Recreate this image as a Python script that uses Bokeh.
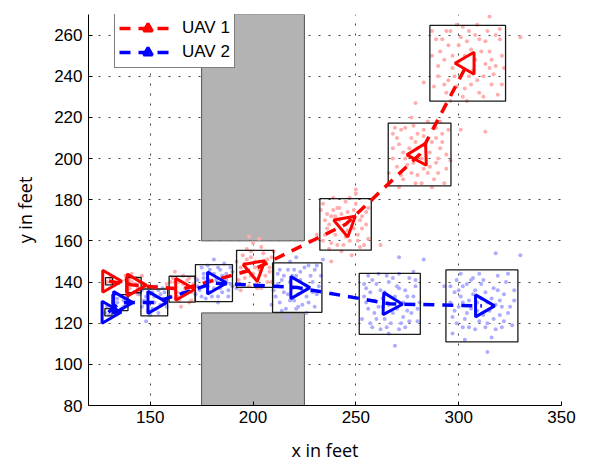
from bokeh.plotting import figure
from bokeh.models import Legend, LegendItem, FixedTicker, Range1d, ColumnDataSource
from bokeh.embed import file_html
from bokeh.resources import INLINE

# ---------------- data ----------------
x_ticks = [150, 200, 250, 300, 350]
y_ticks = [80, 100, 120, 140, 160, 180, 200, 220, 240, 260]

obs_left = [175, 175]
obs_right = [225, 225]
obs_bottom = [80, 160]
obs_top = [125, 270]

uav1_x = [130.0, 141.9, 165.5, 201.0, 245.0, 281.0, 304.4]
uav1_y = [140.4, 138.5, 136.5, 146.4, 168.0, 202.0, 246.3]
uav1_heading = [-90, -90, -90, 190, 190, 92, 90]
uav1_box = [3.5, 7.4, 12.6, 18.0, 25.0, 30.5, 36.8]

uav2_x = [129.7, 135.3, 152.0, 181.0, 221.5, 266.5, 311.3]
uav2_y = [125.3, 130.0, 130.1, 139.5, 137.3, 129.4, 128.4]
uav2_heading = [-90, -90, -90, -90, -90, -92, -90]
uav2_box = [3.5, 7.8, 13.0, 18.0, 24.0, 29.7, 35.0]

uav1_px = [131, 129, 132, 130.5,
           139, 140, 143, 144, 142, 145, 139, 146, 141, 138, 144, 147,
           160, 162, 168, 170, 164, 166, 171, 159, 163, 167, 169, 161, 172, 165, 158, 174, 166, 162,
           193, 196, 199, 203, 206, 198, 202, 208, 195, 205, 197, 201, 209, 192, 204, 200, 207, 194, 210, 199, 198, 203,
           234, 238, 241, 245, 249, 252, 236, 240, 247, 251, 254, 237, 243, 248, 242, 246, 255, 233, 239, 250, 253, 235, 244, 256, 231, 248, 238, 258, 228, 262,
           270, 274, 278, 283, 287, 290, 268, 272, 276, 280, 285, 292, 294, 288, 279, 271, 284, 277, 289, 266, 282, 275, 291, 286, 273, 269, 293, 280, 296, 301, 313, 283, 250,
           292, 296, 300, 305, 310, 315, 318, 312, 306, 298, 290, 288, 294, 302, 310, 316, 320, 297, 303, 308, 313, 291, 299, 309, 287, 319, 304, 295, 314, 322, 315, 330, 279]
uav1_py = [141, 140, 139.5, 142,
           136, 141, 142, 137, 135, 140, 139, 143, 144, 141, 134, 138,
           133, 140, 141, 135, 131, 143, 139, 137, 135, 134, 130, 142, 142, 128, 131, 137, 139, 145,
           141, 149, 152, 150, 143, 138, 140, 147, 145, 154, 156, 147, 140, 150, 137, 159, 151, 136, 155, 143, 162, 161,
           160, 172, 176, 179, 175, 170, 166, 163, 160, 163, 158, 156, 155, 170, 170, 165, 174, 175, 181, 183, 166, 170, 158, 161, 163, 153, 150, 180, 160, 158,
           210, 215, 198, 195, 208, 200, 200, 192, 205, 212, 218, 212, 195, 190, 188, 186, 207, 220, 215, 193, 200, 197, 205, 196, 203, 215, 188, 192, 199, 214, 213, 237, 185,
           258, 262, 255, 262, 258, 252, 245, 240, 236, 240, 245, 235, 232, 230, 232, 236, 258, 250, 250, 248, 246, 252, 265, 265, 262, 231, 228, 238, 262, 244, 269, 259, 227]
uav1_more_x = [289, 293, 297, 301, 304, 307, 311, 316, 321, 318, 313, 306, 300, 295, 290, 299, 305, 309, 317, 321, 296, 312, 303, 287, 294, 308, 315, 320, 293, 302,
               268, 271, 274, 277, 280, 283, 286, 289, 292, 295, 270, 273, 277, 282, 287, 290, 294, 278, 283, 268, 285, 279, 272, 289, 291,
               235, 237, 240, 242, 246, 250, 253, 255, 251, 245, 241, 239, 247, 234, 256, 249, 243, 252, 238, 236,
               194, 197, 200, 203, 206, 209, 193, 196, 204, 207, 199, 202, 195, 208, 201,
               161, 164, 167, 169, 163, 170, 160, 166, 172, 158,
               140, 143, 145, 141, 138]
uav1_more_y = [258, 248, 244, 259, 257, 243, 252, 248, 250, 260, 257, 253, 247, 255, 240, 235, 240, 238, 241, 236, 228, 230, 234, 250, 262, 260, 244, 263, 236, 264,
               212, 207, 200, 210, 205, 211, 203, 198, 208, 214, 196, 190, 193, 188, 186, 193, 202, 216, 214, 205, 193, 208, 214, 210, 218,
               163, 168, 172, 176, 174, 178, 172, 168, 160, 162, 158, 175, 181, 178, 176, 166, 173, 157, 159, 173,
               147, 151, 144, 146, 149, 152, 139, 142, 157, 140, 155, 137, 153, 145, 150,
               137, 140, 137, 142, 133, 131, 140, 135, 134, 139,
               137, 139, 136, 140, 143]

uav2_px = [128, 131, 130, 129,
           133, 137, 136, 134, 138, 132, 139, 135,
           146, 148, 151, 154, 156, 153, 149, 147, 155, 152, 150, 157, 145, 153, 158, 150, 148,
           174, 176, 179, 183, 187, 189, 185, 180, 177, 173, 182, 186, 178, 184, 188, 175, 181, 190, 172, 183, 179, 186, 192,
           211, 214, 217, 221, 225, 229, 231, 227, 222, 216, 212, 219, 224, 228, 215, 220, 226, 213, 218, 230, 223, 209, 233, 221, 217, 231, 234,
           255, 258, 262, 266, 270, 275, 279, 281, 277, 272, 265, 260, 256, 258, 263, 268, 273, 276, 261, 254, 269, 280, 266, 259, 274, 271, 253, 264, 278, 269, 271, 283,
           298, 302, 306, 311, 317, 322, 325, 320, 314, 308, 302, 297, 300, 305, 309, 314, 318, 323, 299, 303, 316, 321, 296, 307, 312, 319, 327, 304, 310, 301, 313, 330, 318, 314, 293]
uav2_py = [125, 127, 124, 128,
           128, 131, 127, 132, 129, 130, 133, 126,
           128, 133, 135, 136, 132, 127, 126, 131, 129, 130, 124, 135, 134, 138, 128, 137, 121,
           136, 142, 146, 147, 144, 139, 135, 133, 132, 141, 141, 149, 138, 137, 133, 147, 151, 145, 134, 130, 141, 141, 137,
           133, 141, 146, 143, 147, 140, 134, 130, 128, 127, 139, 137, 136, 143, 135, 131, 125, 146, 150, 128, 141, 129, 143, 152, 123, 148, 151,
           137, 141, 136, 140, 138, 133, 138, 130, 125, 120, 118, 122, 127, 118, 128, 125, 130, 142, 144, 133, 133, 121, 115, 131, 118, 144, 122, 122, 145, 109, 152, 151,
           135, 138, 141, 139, 137, 134, 128, 124, 120, 117, 118, 123, 128, 131, 126, 130, 129, 140, 141, 112, 113, 118, 130, 134, 124, 143, 136, 125, 144, 133, 135, 153, 154, 106, 138]
uav2_more_x = [296, 300, 304, 308, 312, 316, 320, 324, 327, 322, 318, 310, 305, 299, 298, 302, 306, 311, 315, 319, 313, 307, 301, 324, 297, 317, 303, 309, 326, 321,
               254, 257, 260, 264, 268, 271, 274, 278, 280, 276, 271, 267, 262, 257, 255, 259, 263, 266, 270, 275, 279, 265, 256, 273, 261,
               210, 213, 215, 218, 220, 223, 226, 229, 232, 230, 226, 221, 218, 214, 212, 217, 222, 227, 219, 224,
               173, 176, 178, 181, 184, 187, 190, 188, 183, 179, 175, 181, 185, 177, 189,
               147, 149, 152, 155, 157, 151, 146, 154, 149, 156,
               134, 136, 137, 133]
uav2_more_y = [138, 136, 139, 136, 141, 132, 131, 125, 131, 121, 117, 121, 118, 120, 126, 130, 127, 132, 126, 136, 118, 142, 144, 144, 115, 122, 122, 130, 119, 128,
               139, 135, 139, 135, 142, 137, 136, 133, 127, 121, 117, 120, 117, 120, 130, 125, 132, 129, 127, 126, 141, 143, 143, 123, 128,
               136, 130, 143, 140, 146, 145, 138, 135, 138, 146, 133, 127, 131, 126, 144, 134, 134, 148, 143, 129,
               138, 144, 148, 144, 146, 141, 138, 136, 133, 135, 133, 137, 143, 140, 147,
               130, 135, 133, 134, 130, 127, 136, 125, 129, 137,
               130, 133, 128, 126]

# ---------------- figure ----------------
p = figure(width=593, height=464, output_backend="svg", toolbar_location=None,
           x_range=Range1d(120, 350), y_range=Range1d(80, 270),
           min_border_left=88, min_border_right=32, min_border_top=14, min_border_bottom=59)
p.outline_line_color = None
p.background_fill_color = "white"

# obstacles
p.quad(left=obs_left, right=obs_right, bottom=obs_bottom, top=obs_top,
       fill_color="#b3b3b3", line_color="#555555", line_width=1)

# particles
p.scatter(uav1_px + uav1_more_x, uav1_py + uav1_more_y, size=4, marker="circle",
          fill_color="#ffadad", line_color=None)
p.scatter(uav2_px + uav2_more_x, uav2_py + uav2_more_y, size=4, marker="circle",
          fill_color="#adadff", line_color=None)

# uncertainty boxes
p.rect(uav1_x, uav1_y, width=uav1_box, height=uav1_box, fill_color=None,
       line_color="#1a1a1a", line_width=1.3)
p.rect(uav2_x, uav2_y, width=uav2_box, height=uav2_box, fill_color=None,
       line_color="#1a1a1a", line_width=1.3)

src1 = ColumnDataSource(dict(x=uav1_x, y=uav1_y, a=uav1_heading))
src2 = ColumnDataSource(dict(x=uav2_x, y=uav2_y, a=uav2_heading))

l1 = p.line("x", "y", source=src1, line_color="red", line_width=3.5, line_dash="11 8")
l2 = p.line("x", "y", source=src2, line_color="blue", line_width=3.5, line_dash="11 8")
m1 = p.scatter("x", "y", source=src1, marker="triangle", size=22, angle="a", angle_units="deg",
               fill_color=None, line_color="red", line_width=3)
m2 = p.scatter("x", "y", source=src2, marker="triangle", size=22, angle="a", angle_units="deg",
               fill_color=None, line_color="blue", line_width=3)

# axes
for ax in (p.xaxis[0], p.yaxis[0]):
    ax.axis_line_color = "black"
    ax.axis_line_width = 1
    ax.major_tick_in = 4
    ax.major_tick_out = 0
    ax.minor_tick_line_color = None
    ax.major_label_text_font = "Liberation Sans"
    ax.major_label_text_font_size = "17px"
    ax.major_label_text_color = "black"
    ax.axis_label_text_font = "Open Sans"
    ax.axis_label_text_font_size = "18px"
    ax.axis_label_text_font_style = "normal"
    ax.axis_label_text_color = "black"
p.xaxis.ticker = FixedTicker(ticks=x_ticks)
p.yaxis.ticker = FixedTicker(ticks=y_ticks)
p.xaxis.axis_label = "x in feet"
p.yaxis.axis_label = "y in feet"
p.xaxis.major_label_standoff = 5
p.yaxis.major_label_standoff = 6
p.xaxis.axis_label_standoff = 12
p.yaxis.axis_label_standoff = 14

p.grid.grid_line_color = "#444444"
p.grid.grid_line_dash = "2 8"
p.grid.grid_line_width = 1
p.xgrid.ticker = FixedTicker(ticks=x_ticks)
p.ygrid.ticker = FixedTicker(ticks=y_ticks)

legend = Legend(items=[LegendItem(label="UAV 1", renderers=[l1, m1]),
                       LegendItem(label="UAV 2", renderers=[l2, m2])],
                location=(26, 337), orientation="vertical",
                glyph_width=57, glyph_height=22, spacing=2, padding=4, margin=0,
                label_standoff=6, label_text_font="Liberation Sans", label_text_font_size="17px",
                label_text_color="black", label_height=20,
                border_line_color="black", border_line_width=1, background_fill_alpha=1)
p.add_layout(legend, "center")

open("out.html", "w").write(file_html(p, INLINE))
